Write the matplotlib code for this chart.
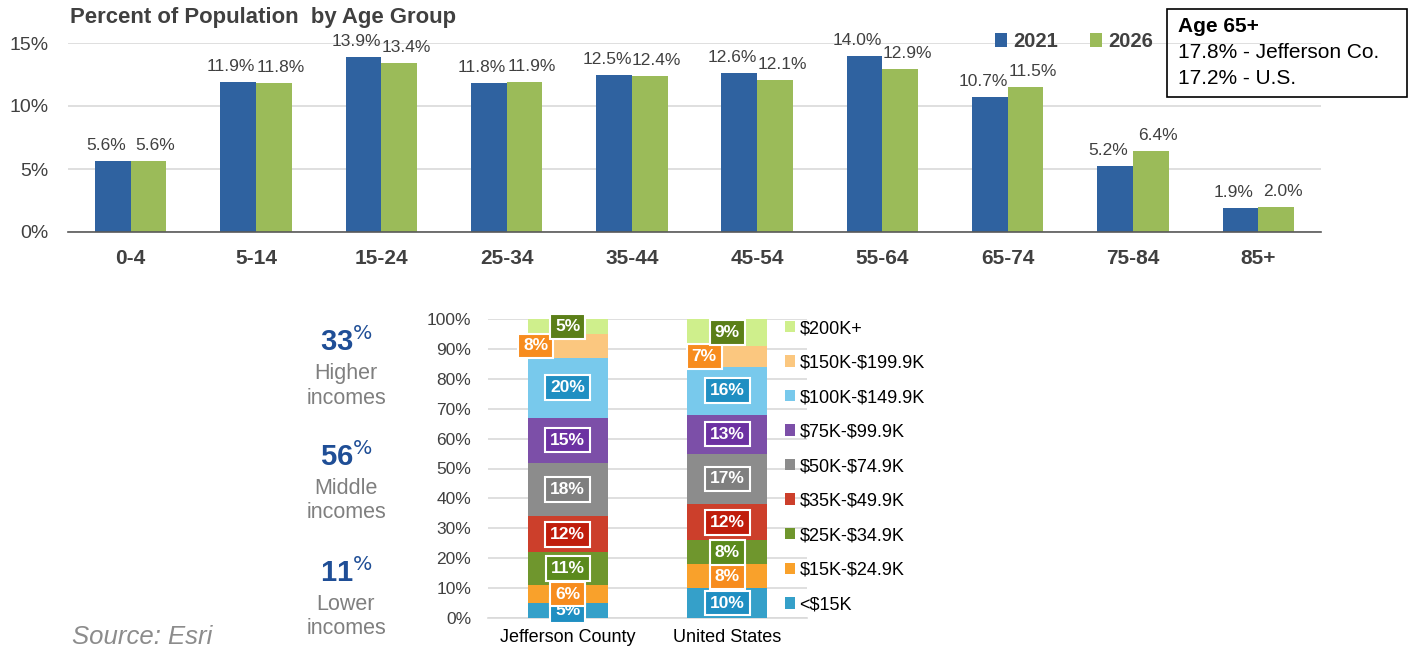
import numpy as np
import matplotlib.pyplot as plt
from matplotlib.patches import Rectangle

plt.rcParams['font.family'] = ['Liberation Sans', 'DejaVu Sans']

# age chart data
age_groups = ['0-4', '5-14', '15-24', '25-34', '35-44', '45-54', '55-64', '65-74', '75-84', '85+']
pop_2021 = [5.6, 11.9, 13.9, 11.8, 12.5, 12.6, 14.0, 10.7, 5.2, 1.9]
pop_2026 = [5.6, 11.8, 13.4, 11.9, 12.4, 12.1, 12.9, 11.5, 6.4, 2.0]

# income chart data
areas = ['Jefferson County', 'United States']
income_bands = ['<$15K', '$15K-$24.9K', '$25K-$34.9K', '$35K-$49.9K', '$50K-$74.9K',
                '$75K-$99.9K', '$100K-$149.9K', '$150K-$199.9K', '$200K+']
jefferson = [5, 6, 11, 12, 18, 15, 20, 8, 5]
united_states = [10, 8, 8, 12, 17, 13, 16, 7, 9]

band_colors = ['#35a0c9', '#f9a12b', '#6f962d', '#cc3f2b', '#8c8c8c',
               '#7c4fa8', '#78c9ec', '#fbc77f', '#cfef8c']
box_colors = ['#1f8fc2', '#f78c1e', '#5b8a1c', '#c01d0c', '#7f7f7f',
              '#6c31a2', '#1f8fc2', '#f78c1e', '#5b7f18']

blue = '#2f62a0'
green = '#9bbb59'
txt = '#404040'

fig = plt.figure(figsize=(14.15, 6.49), dpi=100)

# ---- top chart
ax = fig.add_axes([68 / 1415, 1 - 232 / 649, 1253 / 1415, 189 / 649])
x = np.arange(len(age_groups))
w = 0.285
b1 = ax.bar(x - w / 2, pop_2021, w, color=blue, label='2021', zorder=3)
b2 = ax.bar(x + w / 2, pop_2026, w, color=green, label='2026', zorder=3)
for bars, dx in ((b1, -7), (b2, 7)):
    for r in bars:
        ax.annotate(f'{r.get_height():.1f}%', (r.get_x() + r.get_width() / 2, r.get_height()),
                    xytext=(dx, 8), textcoords='offset pixels', ha='center', va='bottom',
                    fontsize=12.5, color=txt)
ax.set_xlim(-0.5, len(age_groups) - 0.5)
ax.set_ylim(0, 15)
ax.set_yticks([0, 5, 10, 15])
ax.set_yticklabels(['0%', '5%', '10%', '15%'], fontsize=14, color=txt)
ax.set_xticks(x)
ax.set_xticklabels(age_groups, fontsize=15, fontweight='bold', color=txt)
ax.tick_params(length=0)
ax.tick_params(axis='x', pad=12)
ax.tick_params(axis='y', pad=14)
ax.grid(axis='y', color='#d9d9d9', lw=1.2, zorder=0)
for s in ['top', 'right', 'left']:
    ax.spines[s].set_visible(False)
ax.spines['bottom'].set_color('#595959')
ax.spines['bottom'].set_linewidth(1.2)
ax.spines['bottom'].set_zorder(4)
leg = ax.legend(loc='upper left', bbox_to_anchor=(985 / 1415, 1 - 22 / 649), bbox_transform=fig.transFigure,
                ncol=2, frameon=False, handlelength=0.6, handleheight=0.7, handletextpad=0.3,
                columnspacing=1.6, borderpad=0, prop={'weight': 'bold', 'size': 14.5})
for t in leg.get_texts():
    t.set_color(txt)

fig.text(70 / 1415, 1 - 18 / 649, 'Percent of Population  by Age Group', fontsize=15.9,
         fontweight='bold', color=txt, va='center')

# callout box
fig.patches.append(Rectangle((1167 / 1415, 1 - 97 / 649), 240 / 1415, 88 / 649,
                             transform=fig.transFigure, fill=False, ec='black', lw=1.2))
fig.text(1178 / 1415, 1 - 27 / 649, 'Age 65+', fontsize=15, fontweight='bold', va='center')
fig.text(1178 / 1415, 1 - 53 / 649, '17.8% - Jefferson Co.', fontsize=15, va='center')
fig.text(1178 / 1415, 1 - 79 / 649, '17.2% - U.S.', fontsize=15, va='center')

# ---- bottom chart
ax2 = fig.add_axes([488 / 1415, 1 - 618 / 649, 319 / 1415, 299 / 649])
xpos = np.arange(len(areas))
bottom = np.zeros(len(areas))
data = np.array([jefferson, united_states]).T
handles = []
for i, band in enumerate(income_bands):
    h = ax2.bar(xpos, data[i], 0.5, bottom=bottom, color=band_colors[i], zorder=3)
    handles.append(h)
    for j in range(len(areas)):
        cx = xpos[j]
        cy = bottom[j] + data[i][j] / 2
        if band == '$150K-$199.9K':
            cx += -0.2 if j == 0 else -0.145
        ax2.text(cx, cy, f'{data[i][j]}%', ha='center', va='center', color='white',
                 fontsize=12.5, fontweight='bold', zorder=5,
                 bbox=dict(boxstyle='square,pad=0.28', fc=box_colors[i], ec='white', lw=1.5))
    bottom += data[i]
ax2.set_xlim(-0.5, 1.5)
ax2.set_ylim(0, 100)
ax2.set_yticks(range(0, 101, 10))
ax2.set_yticklabels([f'{v}%' for v in range(0, 101, 10)], fontsize=12.5, color=txt)
ax2.set_xticks(xpos)
ax2.set_xticklabels(areas, fontsize=13, color='black')
ax2.tick_params(length=0)
ax2.tick_params(axis='y', pad=12)
ax2.tick_params(axis='x', pad=8)
ax2.grid(axis='y', color='#d9d9d9', lw=1.2, zorder=0)
for s in ['top', 'right', 'left']:
    ax2.spines[s].set_visible(False)
ax2.spines['bottom'].set_color('#d9d9d9')
ax2.spines['bottom'].set_linewidth(1.2)

legend_labels = [b.replace('$', r'\$') for b in income_bands]
leg2 = ax2.legend(handles[::-1], legend_labels[::-1], loc='upper left',
                  bbox_to_anchor=(776 / 1415, 1 - 311 / 649), bbox_transform=fig.transFigure,
                  frameon=False, handlelength=0.55, handleheight=0.6, handletextpad=0.25,
                  labelspacing=0.97, borderpad=0, fontsize=13)
for t in leg2.get_texts():
    t.set_color('black')

# side summary text
navy = '#1f4e96'
gray = '#7f7f7f'
for pct, word, yy in [('33', 'Higher', 342), ('56', 'Middle', 457), ('11', 'Lower', 573)]:
    fig.text(346 / 1415, 1 - yy / 649, pct + r'$^{\%}$', fontsize=21, fontweight='bold',
             color=navy, ha='center', va='center')
    fig.text(346 / 1415, 1 - (yy + 31) / 649, word, fontsize=15.5, color=gray, ha='center', va='center')
    fig.text(346 / 1415, 1 - (yy + 56) / 649, 'incomes', fontsize=15.5, color=gray, ha='center', va='center')

fig.text(72 / 1415, 1 - 637 / 649, 'Source: Esri', fontsize=18.5, style='italic', color='#8c8c8c', va='center')

fig.savefig('out.png', dpi=100)
